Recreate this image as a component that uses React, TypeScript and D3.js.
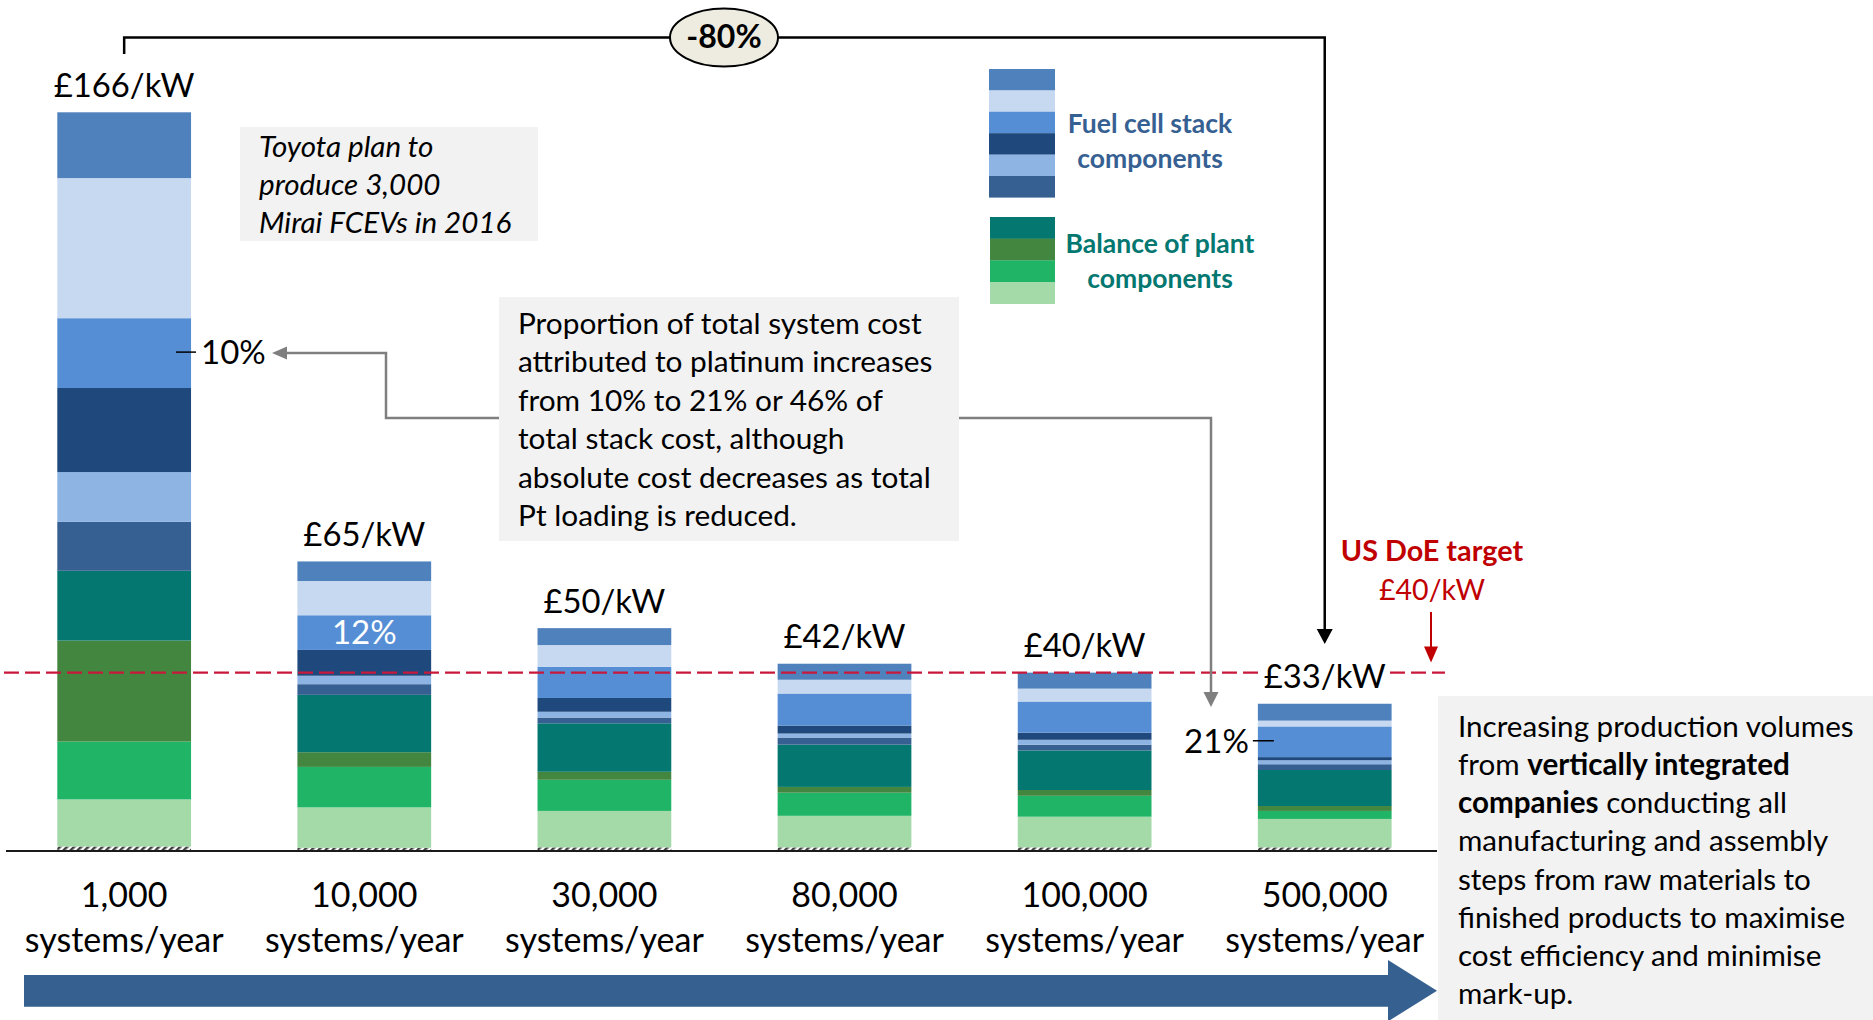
import React from 'react';
import * as d3 from 'd3';

// Production volumes (systems per year)
const volumes = ['1,000', '10,000', '30,000', '80,000', '100,000', '500,000'];
const volumeUnit = 'systems/year';

// Cost components in £/kW for each production volume, listed bottom-to-top of each stack
const otherCost = [0.9, 0.6, 0.7, 0.7, 0.7, 0.7];
const bopLight = [10.6, 9.1, 8.2, 7.1, 6.9, 6.4];
const bopGreen = [13.0, 9.1, 7.0, 5.2, 4.7, 1.8];
const bopDark = [22.7, 3.3, 1.8, 1.3, 1.3, 1.1];
const bopTeal = [15.7, 12.9, 10.9, 9.5, 8.9, 8.1];
const stackSteel = [11.0, 2.4, 1.3, 1.6, 1.3, 1.3];
const stackPale = [11.2, 1.9, 1.3, 0.9, 1.1, 0.9];
const stackNavy = [18.9, 5.8, 3.1, 1.8, 1.6, 0.7];
const stackPlatinum = [15.7, 7.8, 7.0, 7.2, 7.0, 6.9];
const stackLight = [31.5, 7.7, 4.9, 3.1, 2.9, 1.3];
const stackTop = [14.8, 4.4, 3.8, 3.6, 3.6, 3.8];

// US DoE system cost target, £/kW
const targetCost = 40;
const reductionLabel = '-80%';

// Platinum share of total system cost
const platinumShares = [
  { index: 0, label: '10%', place: 'right' },
  { index: 1, label: '12%', place: 'inside' },
  { index: 5, label: '21%', place: 'left' },
];

const series = [
  { key: 'other', values: otherCost, color: 'url(#hatch)' },
  { key: 'bopLight', values: bopLight, color: '#A4D9A8' },
  { key: 'bopGreen', values: bopGreen, color: '#1FB466' },
  { key: 'bopDark', values: bopDark, color: '#43863F' },
  { key: 'bopTeal', values: bopTeal, color: '#037770' },
  { key: 'stackSteel', values: stackSteel, color: '#376092' },
  { key: 'stackPale', values: stackPale, color: '#8EB4E3' },
  { key: 'stackNavy', values: stackNavy, color: '#1F497D' },
  { key: 'stackPlatinum', values: stackPlatinum, color: '#558ED5' },
  { key: 'stackLight', values: stackLight, color: '#C6D9F1' },
  { key: 'stackTop', values: stackTop, color: '#4F81BD' },
];

const stackLegendKeys = ['stackTop', 'stackLight', 'stackPlatinum', 'stackNavy', 'stackPale', 'stackSteel'];
const bopLegendKeys = ['bopTeal', 'bopDark', 'bopGreen', 'bopLight'];

const toyotaNote = ['Toyota plan to', 'produce 3,000', 'Mirai FCEVs in 2016'];
const platinumNote = [
  'Proportion of total system cost',
  'attributed to platinum increases',
  'from 10% to 21% or 46% of',
  'total stack cost, although',
  'absolute cost decreases as total',
  'Pt loading is reduced.',
];
// each line is a list of [text, bold] runs
const volumeNote: [string, boolean][][] = [
  [['Increasing production volumes', false]],
  [['from ', false], ['vertically integrated', true]],
  [['companies', true], [' conducting all', false]],
  [['manufacturing and assembly', false]],
  [['steps from raw materials to', false]],
  [['finished products to maximise', false]],
  [['cost efficiency and minimise', false]],
  [['mark-up.', false]],
];

const FONT = "Lato, 'Open Sans', sans-serif";
const W = 1873;
const H = 1020;

export default function App() {
  const rows = volumes.map((v, i) => {
    const r: any = { volume: v };
    series.forEach((s) => (r[s.key] = s.values[i]));
    return r;
  });
  const keys = series.map((s) => s.key);
  const stacked = d3.stack().keys(keys)(rows);
  const totals = rows.map((r) => d3.sum(keys, (k) => r[k]));
  const colorOf: Record<string, string> = {};
  series.forEach((s) => (colorOf[s.key] = s.color));

  const x = d3.scaleBand().domain(volumes).range([57.3, 1391.6]).paddingInner(0.443).paddingOuter(0);
  const y = d3.scaleLinear().domain([0, 166]).range([850.5, 112.3]);
  const bw = x.bandwidth();
  const cx = (i: number) => (x(volumes[i]) as number) + bw / 2;

  const platIdx = keys.indexOf('stackPlatinum');
  const platMid = (i: number) => {
    const seg = stacked[platIdx][i];
    return (y(seg[0]) + y(seg[1])) / 2;
  };

  const yTarget = y(targetCost);
  const grey = '#7F7F7F';
  const last = volumes.length - 1;

  return (
    <svg width={W} height={H} style={{ position: 'absolute', left: 0, top: 0, display: 'block', background: '#fff' }} fontFamily={FONT}>
      <defs>
        <pattern id="hatch" width="5" height="5" patternUnits="userSpaceOnUse" patternTransform="rotate(45)">
          <rect width="5" height="5" fill="#ffffff" />
          <rect width="2.5" height="5" fill="#404040" />
        </pattern>
      </defs>

      {/* Stacked cost bars */}
      {stacked.map((layer) => (
        <g key={layer.key} fill={colorOf[layer.key]}>
          {layer.map((d, i) => (
            <rect key={i} x={x(volumes[i])} y={y(d[1])} width={bw} height={Math.max(0, y(d[0]) - y(d[1]))} />
          ))}
        </g>
      ))}

      {/* Baseline */}
      <line x1={6} x2={1437} y1={y(0) + 0.5} y2={y(0) + 0.5} stroke="#1a1a1a" strokeWidth={2} />

      {/* US DoE target line */}
      <line x1={4} x2={1445} y1={yTarget} y2={yTarget} stroke="#C8193C" strokeWidth={2.2} strokeDasharray="15 6" />

      {/* Total cost labels */}
      {totals.map((t, i) => {
        const label = `£${Math.round(t)}/kW`;
        const by = y(t) - 15.5;
        return (
          <g key={i}>
            <rect x={cx(i) - 65} y={by - 26} width={130} height={32} fill="#fff" />
            <text x={cx(i)} y={by} textAnchor="middle" fontSize={32.8} fill="#000">
              {label}
            </text>
          </g>
        );
      })}

      {/* Volume labels */}
      {volumes.map((v, i) => (
        <g key={v}>
          <text x={cx(i)} y={907} textAnchor="middle" fontSize={34} fill="#000">{v}</text>
          <text x={cx(i)} y={952} textAnchor="middle" fontSize={34} fill="#000">{volumeUnit}</text>
        </g>
      ))}

      {/* Platinum share labels */}
      {platinumShares.map((p) => {
        const py = platMid(p.index);
        const left = x(volumes[p.index]) as number;
        if (p.place === 'inside') {
          return (
            <text key={p.label} x={cx(p.index)} y={py + 11.5} textAnchor="middle" fontSize={33} fill="#fff">{p.label}</text>
          );
        }
        if (p.place === 'right') {
          const edge = left + bw;
          return (
            <g key={p.label}>
              <line x1={edge - 15} x2={edge + 5} y1={py - 1} y2={py - 1} stroke="#000" strokeWidth={1.5} />
              <text x={edge + 10} y={py + 10.5} fontSize={33} fill="#000">{p.label}</text>
            </g>
          );
        }
        return (
          <g key={p.label}>
            <line x1={left - 5} x2={left + 16} y1={py - 1} y2={py - 1} stroke="#000" strokeWidth={1.5} />
            <text x={left - 9} y={py + 11.5} textAnchor="end" fontSize={33} fill="#000">{p.label}</text>
          </g>
        );
      })}

      {/* Toyota note */}
      <rect x={240} y={127} width={298} height={114} fill="#F2F2F2" />
      {toyotaNote.map((t, i) => (
        <text key={i} x={259} y={156.5 + i * 38.3} fontSize={29.6} fontStyle="italic" fill="#000">{t}</text>
      ))}

      {/* Platinum note and its connectors */}
      <path d={`M499,418 H386 V353 H284`} fill="none" stroke={grey} strokeWidth={2.5} />
      <polygon points="272,353 287,346.5 287,359.5" fill={grey} />
      <path d={`M959,418 H1211 V693`} fill="none" stroke={grey} strokeWidth={2.5} />
      <polygon points="1211,707 1203.5,692 1218.5,692" fill={grey} />
      <rect x={499} y={297} width={460} height={244} fill="#F2F2F2" />
      {platinumNote.map((t, i) => (
        <text key={i} x={518} y={334 + i * 38.4} fontSize={29.8} fill="#000">{t}</text>
      ))}

      {/* Legend */}
      {stackLegendKeys.map((k, i) => (
        <rect key={k} x={989} y={69 + i * 21.4} width={66} height={21.6} fill={colorOf[k]} />
      ))}
      <text x={1150} y={133} textAnchor="middle" fontSize={26.5} fontWeight="bold" fill="#366092">Fuel cell stack</text>
      <text x={1150} y={168} textAnchor="middle" fontSize={26.5} fontWeight="bold" fill="#366092">components</text>
      {bopLegendKeys.map((k, i) => (
        <rect key={k} x={990} y={217 + i * 21.7} width={65} height={21.9} fill={colorOf[k]} />
      ))}
      <text x={1160} y={253} textAnchor="middle" fontSize={26.5} fontWeight="bold" fill="#037770">Balance of plant</text>
      <text x={1160} y={288} textAnchor="middle" fontSize={26.5} fontWeight="bold" fill="#037770">components</text>

      {/* Overall reduction bracket */}
      <path d={`M${cx(0)},54 V37.5 H${cx(last)} V630`} fill="none" stroke="#000" strokeWidth={2.5} />
      <polygon points={`${cx(last)},644 ${cx(last) - 8},629 ${cx(last) + 8},629`} fill="#000" />
      <ellipse cx={724} cy={37.5} rx={54} ry={29} fill="#EEECE1" stroke="#000" strokeWidth={2} />
      <text x={724} y={47.5} textAnchor="middle" fontSize={32} fontWeight="bold" fill="#000">{reductionLabel}</text>

      {/* US DoE target callout */}
      <text x={1432} y={561} textAnchor="middle" fontSize={28.8} fontWeight="bold" fill="#C00000">US DoE target</text>
      <text x={1432} y={600} textAnchor="middle" fontSize={28.5} fill="#C00000">{`£${targetCost}/kW`}</text>
      <line x1={1431} x2={1431} y1={612} y2={650} stroke="#C00000" strokeWidth={2} />
      <polygon points={`1431,${yTarget - 10} 1424,${yTarget - 26} 1438,${yTarget - 26}`} fill="#C00000" />

      {/* Volume note */}
      <rect x={1438} y={696} width={W - 1438} height={H - 696} fill="#F2F2F2" />
      {volumeNote.map((runs, i) => (
        <text key={i} x={1458} y={736.7 + i * 38.2} fontSize={29.6} fill="#000">
          {runs.map(([t, b], j) => (
            <tspan key={j} fontWeight={b ? 'bold' : 'normal'}>{t}</tspan>
          ))}
        </text>
      ))}

      {/* Production volume arrow */}
      <polygon points="24,975 1388,975 1388,960 1437,990.7 1388,1021.4 1388,1006.7 24,1006.7" fill="#36608F" />
    </svg>
  );
}
